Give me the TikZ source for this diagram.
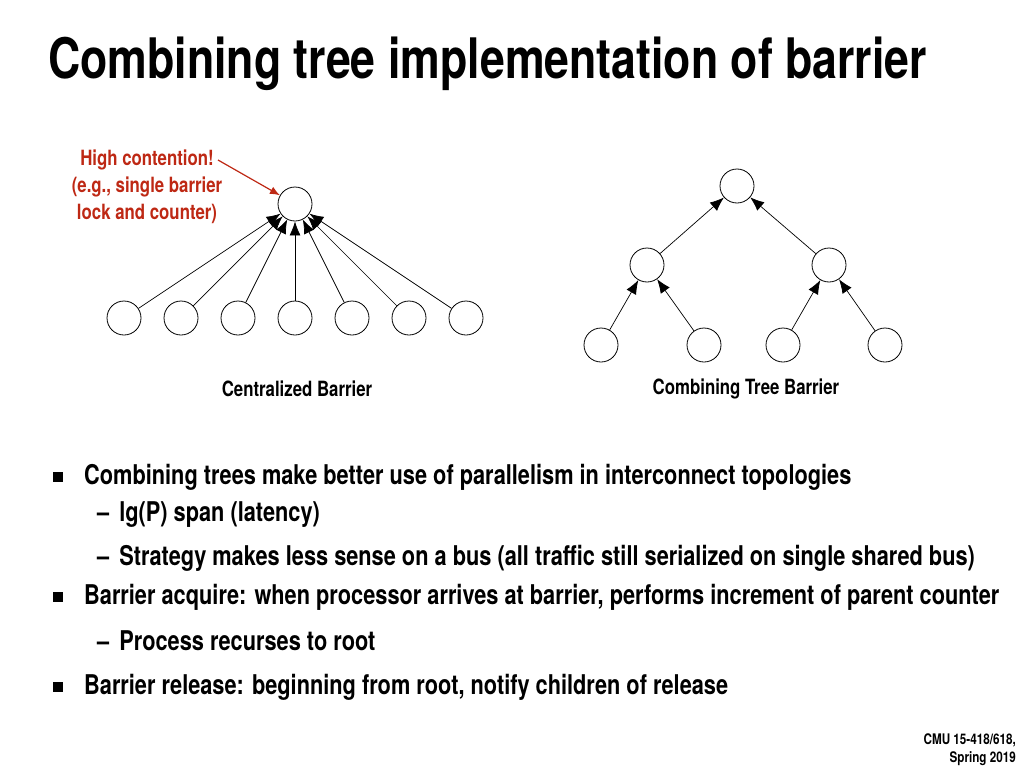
\documentclass[tikz,border=0pt]{standalone}
\usepackage{fontspec}
\setmainfont{TeX Gyre Heros}[FakeStretch=0.8]
\usetikzlibrary{arrows.meta}
\definecolor{cmured}{RGB}{190,40,20}
\begin{document}
\begin{tikzpicture}[x=1pt,y=-1pt,
  nd/.style={circle,draw,line width=0.8pt,minimum size=34pt,inner sep=0pt},
  ar/.style={-{Latex[length=14pt,width=11pt]},line width=0.7pt},
  txt/.style={font=\bfseries\fontsize{27.2}{30}\selectfont,anchor=west,inner sep=0pt},
  captxt/.style={font=\bfseries\fontsize{21}{24}\selectfont,inner sep=0pt}]
\useasboundingbox (0,0) rectangle (1024,768);
\node[anchor=west,inner sep=0pt,font=\bfseries\fontsize{55.8}{60}\selectfont] (title) at (48,64) {Combining tree implementation of barrier};
% centralized
\node[nd] (c) at (295,204) {};
\foreach \i/\x in {1/124,2/181,3/238,4/295,5/352,6/409,7/466}{
  \node[nd] (l\i) at (\x,318) {};
  \draw[ar] (l\i) -- (c);
}
\node[captxt] (capA) at (297,389) {Centralized Barrier};
\node[align=center,text=cmured,font=\bfseries\fontsize{21}{27}\selectfont,inner sep=0pt] (hc) at (147,187) {High contention!\\(e.g., single barrier\\lock and counter)};
\coordinate (hcs) at (218,160);
\draw[cmured,line width=1.2pt,-{Latex[length=10pt,width=8pt]}] (hcs) -- (c.150);
% tree
\node[nd] (r) at (737,186) {};
\node[nd] (m1) at (647,265) {};
\node[nd] (m2) at (829,265) {};
\node[nd] (t1) at (601,345) {};
\node[nd] (t2) at (704,345) {};
\node[nd] (t3) at (783,345) {};
\node[nd] (t4) at (885,345) {};
\draw[ar] (m1) -- (r); \draw[ar] (m2) -- (r);
\draw[ar] (t1) -- (m1); \draw[ar] (t2) -- (m1);
\draw[ar] (t3) -- (m2); \draw[ar] (t4) -- (m2);
\node[captxt] (capB) at (746,389) {Combining Tree Barrier};
% bullets
\foreach \y in {477,597,687}{\fill (53,\y-5) rectangle (63,\y+5);}
\node[txt] (b1) at (84,477) {Combining trees make better use of parallelism in interconnect topologies};
\node[txt] (s1) at (97,515) {–\hspace{10pt}lg(P) span (latency)};
\node[txt] (s2) at (97,558) {–\hspace{10pt}Strategy makes less sense on a bus (all traffic still serialized on single shared bus)};
\node[txt] (b2) at (84,597) {Barrier acquire: when processor arrives at barrier, performs increment of parent counter};
\node[txt] (s3) at (97,641) {–\hspace{10pt}Process recurses to root};
\node[txt] (b3) at (84,687) {Barrier release: beginning from root, notify children of release};
\node[align=right,anchor=east,inner sep=0pt,font=\bfseries\fontsize{14.6}{18}\selectfont] (foot) at (1016,750) {CMU 15-418/618,\\Spring 2019};
\end{tikzpicture}
\end{document}
